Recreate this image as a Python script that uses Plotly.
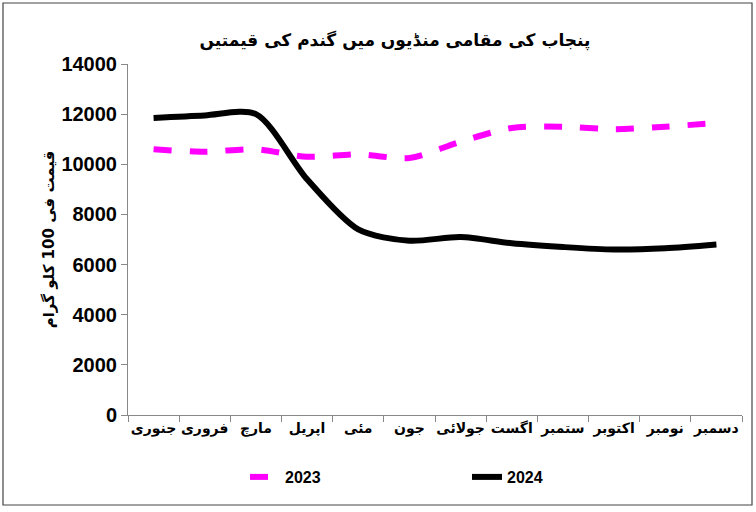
import plotly.graph_objects as go

months = ["جنوری", "فروری", "مارچ", "اپریل", "مئی", "جون",
          "جولائی", "اگست", "ستمبر", "اکتوبر", "نومبر", "دسمبر"]
prices_2023 = [10600, 10500, 10600, 10300, 10400, 10250,
               10900, 11450, 11500, 11400, 11500, 11650]
prices_2024 = [11850, 11950, 12000, 9400, 7400, 6950,
               7100, 6850, 6700, 6600, 6650, 6800]
y_ticks = [0, 2000, 4000, 6000, 8000, 10000, 12000, 14000]
y_tick_text = [str(v) for v in y_ticks]

title_text = "پنجاب کی مقامی منڈیوں میں گندم کی قیمتیں"
y_title = "قیمت فی 100 کلو گرام"

W, H = 756, 512
ML, MR, MT, MB = 128, 14, 64, 97
PW, PH = W - ML - MR, H - MT - MB

urdu_font = "DejaVu Sans"

fig = go.Figure()
fig.add_trace(go.Scatter(
    x=months, y=prices_2023, name="2023", mode="lines",
    line=dict(color="#FF00FF", width=6, dash="dash", shape="spline", smoothing=0.8),
))
fig.add_trace(go.Scatter(
    x=months, y=prices_2024, name="2024", mode="lines",
    line=dict(color="#000000", width=6, shape="spline", smoothing=0.8),
))

# outer border
fig.add_shape(type="rect", xref="paper", yref="paper",
              x0=(3 - ML) / PW, x1=(752 - ML) / PW,
              y0=(H - MB - 505) / PH, y1=(H - MB - 3) / PH,
              line=dict(color="#444444", width=1.2), fillcolor="rgba(0,0,0,0)",
              layer="below")

fig.update_layout(
    width=W, height=H,
    margin=dict(l=ML, r=MR, t=MT, b=MB),
    paper_bgcolor="white", plot_bgcolor="white",
    title=dict(text=title_text, x=395 / W, xanchor="center", y=1 - 40 / H, yanchor="middle",
               font=dict(family=urdu_font, size=17, color="black", weight="bold")),
    xaxis=dict(
        type="category", tickson="boundaries", ticks="outside", ticklen=6,
        range=[-0.5, len(months) - 0.5], tickangle=0,
        tickcolor="#888888", showline=True, linecolor="#888888", linewidth=1,
        showgrid=False, zeroline=False,
        tickfont=dict(family=urdu_font, size=14, color="black", weight="bold"),
    ),
    yaxis=dict(
        range=[0, 14000], tickvals=y_ticks, ticktext=y_tick_text,
        ticks="outside", ticklen=6,
        tickcolor="#888888", showline=True, linecolor="#888888", linewidth=1,
        showgrid=False, zeroline=False,
        tickfont=dict(family="Liberation Sans", size=20, color="black", weight="bold"),
        title=dict(text=y_title, standoff=3,
                   font=dict(family=urdu_font, size=15, color="black", weight="bold")),
    ),
    legend=dict(orientation="h", xref="container", x=245 / W, xanchor="left",
                yref="container", y=(H - 477) / H, yanchor="middle",
                entrywidth=177, entrywidthmode="pixels",
                font=dict(family="Liberation Sans", size=16, color="black", weight="bold")),
    showlegend=True,
)

fig.write_html("out.html", config={"displayModeBar": False},
               post_script="document.body.style.margin='0';document.body.style.overflow='hidden';")
